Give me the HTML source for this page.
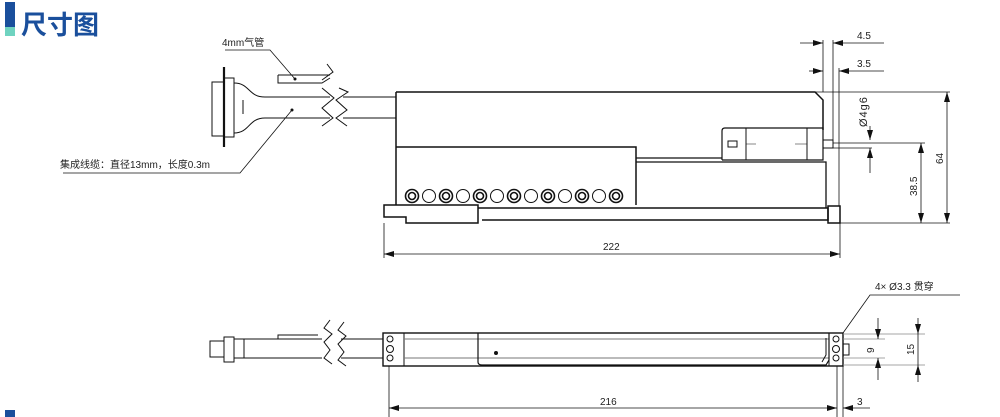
<!DOCTYPE html>
<html><head><meta charset="utf-8"><style>
html,body{margin:0;padding:0;background:#fff;width:1000px;height:417px;overflow:hidden}
svg{display:block}
text{font-family:"Liberation Sans","Noto Sans CJK SC",sans-serif;fill:#222}
</style></head><body>
<svg width="1000" height="417" viewBox="0 0 1000 417" xmlns="http://www.w3.org/2000/svg">
<defs>
<marker id="a" viewBox="0 0 10 6" refX="10" refY="3" markerWidth="10" markerHeight="6" orient="auto-start-reverse" markerUnits="userSpaceOnUse"><path d="M0,0L10,3L0,6z" fill="#111"/></marker>
</defs>
<!-- header -->
<rect x="5" y="2" width="10" height="25" fill="#1a4f9c"/>
<rect x="5" y="27" width="10" height="9" fill="#6fd3c0"/>
<text x="21" y="34" font-size="26" font-weight="bold" style="fill:#1a4f9c">尺寸图</text>
<rect x="5" y="410" width="10" height="7" fill="#1a4f9c"/>

<g fill="none" stroke="#111" stroke-width="1">
<line x1="224" y1="67" x2="224" y2="147" stroke-width="2.2"/>
<rect x="212" y="82" width="12" height="54"/>
<rect x="224" y="78" width="10" height="59"/>
<path d="M234,83 C250,83 248,97 265,97 L330,97 M234,133 C250,133 248,118 265,118 L330,118"/>
<line x1="243" y1="100" x2="243" y2="114"/>
<path d="M343,97 L396,97 M343,118 L396,118"/>
<path d="M278,75 L330,75 M278,75 L278,83 L322,83 L330,78"/>
<path d="M327,64 L333,72 L322,80 M322,88 L334,98 L322,108 L333,118 L322,126 M339,88 L348,92 L336,100 L347,110 L336,118 L347,126"/>
<path d="M225,50 L270,50 L295,79" stroke-width="0.8"/>
<path d="M63,173 L240,173 L292,110" stroke-width="0.8"/>

<path d="M396,92 L815,92 L823,100 L823,130" stroke-width="1.5"/>
<path d="M396,92 L396,205" stroke-width="1.5"/>
<path d="M396,147 L636,147 L636,205" stroke-width="1.5"/>
<path d="M636,158 L722,158 M636,162 L826,162 L826,208" stroke-width="1.3"/>
<path d="M722,160 L722,131 Q722,128 725,128 L823,128 L823,160 L722,160" stroke-width="1.2"/>
<line x1="746" y1="128" x2="746" y2="160"/>
<line x1="807" y1="128" x2="807" y2="160"/>
<rect x="728" y="141" width="9" height="6"/>
<path d="M746,144 L756,144 M795,144 L807,144" stroke-width="0.6"/>
<rect x="823" y="140" width="10" height="8"/>
<path d="M384,205 L478,205 L478,223 L406,223 L406,217 L384,217 Z" stroke-width="1.5"/>
<path d="M478,208 L828,208 L828,220 L482,220" stroke-width="1.5"/>
<rect x="828" y="206" width="12" height="17" stroke-width="1.5"/>
</g>
<g fill="none" stroke="#111">
<circle cx="412" cy="196" r="6.5" stroke-width="1.6"/><circle cx="412" cy="196" r="3.5" stroke-width="1.6"/>
<circle cx="429" cy="196" r="6.5"/>
<circle cx="446" cy="196" r="6.5" stroke-width="1.6"/><circle cx="446" cy="196" r="3.5" stroke-width="1.6"/>
<circle cx="463" cy="196" r="6.5"/>
<circle cx="480" cy="196" r="6.5" stroke-width="1.6"/><circle cx="480" cy="196" r="3.5" stroke-width="1.6"/>
<circle cx="497" cy="196" r="6.5"/>
<circle cx="514" cy="196" r="6.5" stroke-width="1.6"/><circle cx="514" cy="196" r="3.5" stroke-width="1.6"/>
<circle cx="531" cy="196" r="6.5"/>
<circle cx="548" cy="196" r="6.5" stroke-width="1.6"/><circle cx="548" cy="196" r="3.5" stroke-width="1.6"/>
<circle cx="565" cy="196" r="6.5"/>
<circle cx="582" cy="196" r="6.5" stroke-width="1.6"/><circle cx="582" cy="196" r="3.5" stroke-width="1.6"/>
<circle cx="599" cy="196" r="6.5"/>
<circle cx="616" cy="196" r="6.5" stroke-width="1.6"/><circle cx="616" cy="196" r="3.5" stroke-width="1.6"/>
</g>
<g fill="none" stroke="#111" stroke-width="0.8">
<line x1="823" y1="40" x2="823" y2="92"/>
<line x1="833" y1="40" x2="833" y2="140"/>
<line x1="839" y1="68" x2="839" y2="206"/>
<line x1="800" y1="43" x2="823" y2="43" marker-end="url(#a)"/>
<line x1="884" y1="43" x2="833" y2="43" marker-end="url(#a)"/>
<line x1="809" y1="71" x2="823" y2="71" marker-end="url(#a)"/>
<line x1="884" y1="71" x2="839" y2="71" marker-end="url(#a)"/>
<line x1="870" y1="126" x2="870" y2="140" marker-end="url(#a)"/>
<line x1="870" y1="173" x2="870" y2="148" marker-end="url(#a)"/>
<line x1="833" y1="143" x2="925" y2="143"/>
<line x1="833" y1="148" x2="872" y2="148"/>
<line x1="815" y1="92" x2="950" y2="92"/>
<line x1="840" y1="223" x2="950" y2="223"/>
<line x1="921" y1="143" x2="921" y2="223" marker-start="url(#a)" marker-end="url(#a)"/>
<line x1="947" y1="92" x2="947" y2="223" marker-start="url(#a)" marker-end="url(#a)"/>
<line x1="384" y1="223" x2="384" y2="258"/>
<line x1="840" y1="223" x2="840" y2="258"/>
<line x1="384" y1="254" x2="840" y2="254" marker-start="url(#a)" marker-end="url(#a)"/>
</g>
<text x="857" y="39" font-size="10">4.5</text>
<text x="857" y="67" font-size="10">3.5</text>
<text x="0" y="0" font-size="11" letter-spacing="1" transform="translate(867,127) rotate(-90)">Ø4g6</text>
<text x="0" y="0" font-size="10" transform="translate(917,196) rotate(-90)">38.5</text>
<text x="0" y="0" font-size="10" transform="translate(943,164) rotate(-90)">64</text>
<text x="603" y="250" font-size="10">222</text>
<text x="222" y="46" font-size="10">4mm气管</text>
<text x="60" y="168" font-size="10">集成线缆：直径13mm，长度0.3m</text>
<circle cx="295" cy="79" r="1.5" fill="#111"/>
<circle cx="292" cy="110" r="1.5" fill="#111"/>

<g fill="none" stroke="#111" stroke-width="1">
<rect x="210" y="341" width="14" height="16"/>
<rect x="224" y="337" width="10" height="25"/>
<rect x="234" y="339" width="10" height="19"/>
<path d="M244,339 L322,339 M244,358 L322,358 M341,339 L383,339 M341,358 L383,358"/>
<path d="M278,339 L278,335 L318,335"/>
<path d="M330,320 L324,328 L332,334 L324,342 L330,350 L324,358 L332,364 M344,322 L338,330 L346,336 L338,344 L344,352 L338,360 L346,366"/>
<rect x="383" y="333" width="460" height="33" stroke-width="1.4"/>
<line x1="404" y1="333" x2="404" y2="366"/>
<path d="M404,339 L829,339 M404,358 L829,358" stroke="#777"/>
<path d="M478,333 L478,362 Q478,365 482,365 L826,365 L829,360 L829,333" stroke-width="1.2"/>
<line x1="829" y1="333" x2="829" y2="366"/>
<path d="M826,338 L826,355 L822,362" />
<circle cx="390" cy="339" r="3"/><circle cx="390" cy="349" r="3.5"/><circle cx="390" cy="358" r="3"/>
<circle cx="836" cy="339" r="3"/><circle cx="836" cy="349" r="3.5"/><circle cx="836" cy="358" r="3"/>
<rect x="843" y="344" width="6" height="11"/>
</g>
<circle cx="496" cy="353" r="2" fill="#111"/>
<g fill="none" stroke-width="0.8" stroke="#111">
<path d="M843,334 L925,334 M843,339 L885,339 M843,358 L885,358 M843,365 L925,365" stroke="#888"/>
<line x1="878" y1="318" x2="878" y2="339" marker-end="url(#a)"/>
<line x1="878" y1="380" x2="878" y2="358" marker-end="url(#a)"/>
<line x1="918" y1="318" x2="918" y2="334" marker-end="url(#a)"/>
<line x1="918" y1="382" x2="918" y2="365" marker-end="url(#a)"/>
<line x1="918" y1="334" x2="918" y2="365"/>
<path d="M960,295 L870,295 L843,333"/>
<line x1="389" y1="366" x2="389" y2="417"/>
<line x1="837" y1="366" x2="837" y2="417"/>
<line x1="843" y1="366" x2="843" y2="417"/>
<line x1="389" y1="408" x2="837" y2="408" marker-start="url(#a)" marker-end="url(#a)"/>
<line x1="870" y1="408" x2="843" y2="408" marker-end="url(#a)"/>
</g>
<text x="875" y="290" font-size="10">4× Ø3.3 贯穿</text>
<text x="0" y="0" font-size="10" transform="translate(874,353) rotate(-90)">9</text>
<text x="0" y="0" font-size="10" transform="translate(914,355) rotate(-90)">15</text>
<text x="600" y="405" font-size="10">216</text>
<text x="857" y="405" font-size="10">3</text>
</svg>
</body></html>
